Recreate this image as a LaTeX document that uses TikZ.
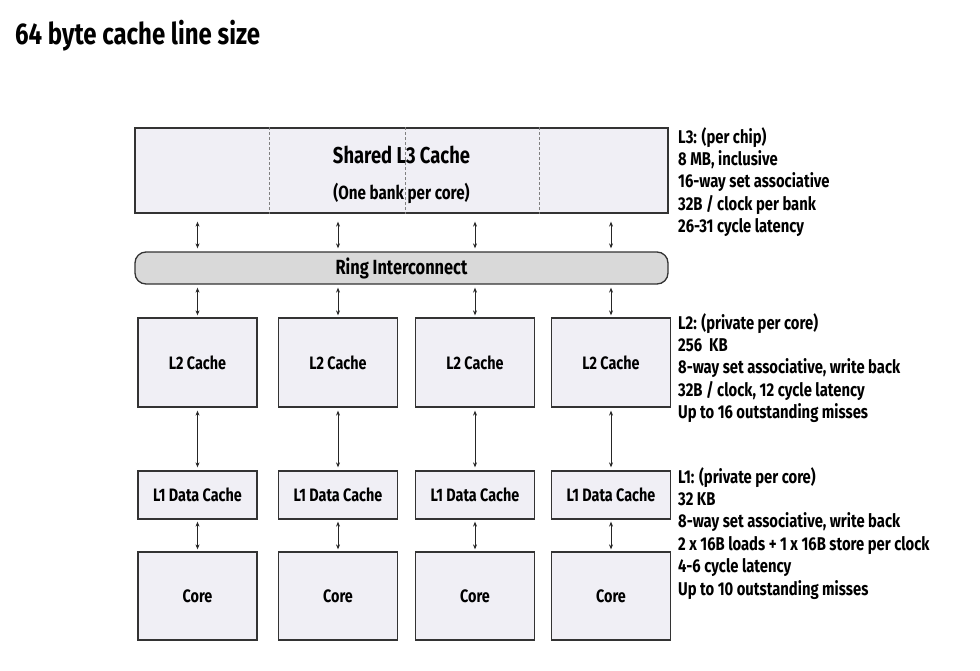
\documentclass[tikz,border=0pt]{standalone}
\usepackage{fontspec}
\setmainfont{Fira Sans}[FakeStretch=0.8]
\usetikzlibrary{calc,arrows.meta}
\definecolor{boxfill}{HTML}{F0EFF5}
\definecolor{ringfill}{HTML}{D9D9D9}
\definecolor{edge}{HTML}{333333}
\tikzset{
  cbox/.style={draw=edge, line width=1.3pt, fill=boxfill, inner sep=0pt, font=\bfseries\fontsize{18}{21}\selectfont},
  link/.style={{Stealth[length=5pt,width=4pt]}-{Stealth[length=5pt,width=4pt]}, line width=0.7pt, draw=black!85},
  info/.style={anchor=north west, align=left, inner sep=0pt, font=\bfseries\fontsize{18.5}{22.4}\selectfont}
}
\begin{document}
\begin{tikzpicture}[x=1pt,y=-1pt]
\useasboundingbox (0,0) rectangle (980,670);
\node[anchor=west, inner sep=0pt, font=\bfseries\fontsize{30}{34}\selectfont] (title) at (15,36) {64 byte cache line size};

\node[cbox, minimum width=533, minimum height=85] (L3) at (401.5,170.5) {};
\node[font=\bfseries\fontsize{23}{27}\selectfont, inner sep=0pt] (L3t) at (401.5,155) {Shared L3 Cache};
\node[font=\bfseries\fontsize{19}{22}\selectfont, inner sep=0pt] (L3s) at (401.5,193) {(One bank per core)};
\foreach \f in {0.253,0.507,0.757}
  \draw[densely dashed, line width=0.5pt, draw=black!50] ($(L3.north west)!\f!(L3.north east)$) -- ($(L3.south west)!\f!(L3.south east)$);

\node[cbox, fill=ringfill, rounded corners=11pt, minimum width=533, minimum height=32, font=\bfseries\fontsize{20.5}{24}\selectfont] (ring) at (401.5,268) {Ring Interconnect};

\foreach \i/\x in {1/197.5,2/338,3/475,4/611}{
  \node[cbox, minimum width=119, minimum height=89] (L2\i) at (\x,362.5) {L2 Cache};
  \node[cbox, minimum width=119, minimum height=48] (L1\i) at (\x,495) {L1 Data Cache};
  \node[cbox, minimum width=119, minimum height=88] (C\i) at (\x,596) {Core};
  \draw[link, shorten <=8pt, shorten >=3pt] (L2\i |- L3.south) -- (L2\i |- ring.north);
  \draw[link, shorten <=3pt, shorten >=2pt] (L2\i |- ring.south) -- (L2\i.north);
  \draw[link, shorten <=3pt, shorten >=3pt] (L2\i.south) -- (L1\i.north);
  \draw[link, shorten <=2pt, shorten >=2pt] (L1\i.south) -- (C\i.north);
}

\node[info] (i3) at (678,127) {L3: (per chip)\\8 MB, inclusive\\16-way set associative\\32B / clock per bank\\26-31 cycle latency};
\node[info] (i2) at (678,313) {L2: (private per core)\\256\ \ KB\\8-way set associative, write back\\32B / clock, 12 cycle latency\\Up to 16 outstanding misses};
\node[info] (i1) at (678,467) {L1: (private per core)\\32 KB\\8-way set associative, write back\\2 x 16B loads + 1 x 16B store per clock\\4-6 cycle latency\\Up to 10 outstanding misses};
\end{tikzpicture}
\end{document}
